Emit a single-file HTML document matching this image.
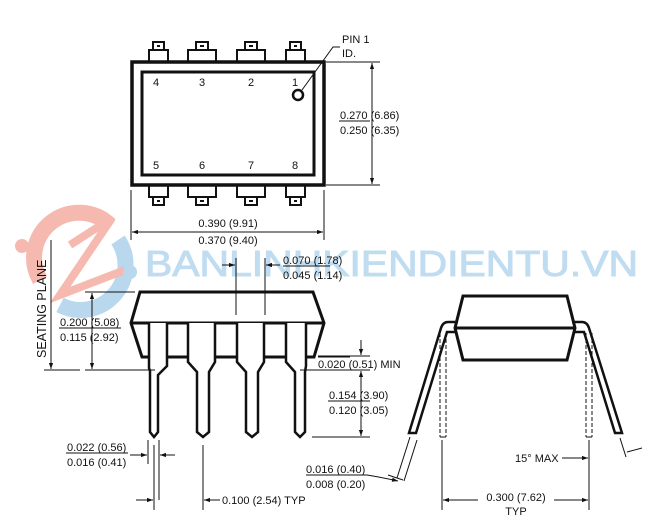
<!DOCTYPE html>
<html><head><style>
html,body{margin:0;padding:0;background:#fff;}
svg{display:block}
text{font-family:"Liberation Sans",sans-serif;font-size:11px;fill:#111}
</style></head><body>
<svg width="650" height="524" viewBox="0 0 650 524" xmlns="http://www.w3.org/2000/svg">
<defs>
<marker id="a" viewBox="0 0 10 10" refX="10" refY="5" markerWidth="8" markerHeight="6" orient="auto-start-reverse"><path d="M0,1.5L10,5L0,8.5z" fill="#111"/></marker>
</defs>
<!-- watermark -->
<g opacity="0.55">
<path d="M40,280 A45,45 0 0 1 110,225" stroke="#f08070" stroke-width="16" fill="none"/>
<path d="M118,240 A45,45 0 0 1 60,305" stroke="#80b8e0" stroke-width="16" fill="none"/>
<path d="M70,245 L112,218 L60,295 L125,270" stroke="#f08070" stroke-width="8" fill="none"/>
<circle cx="22" cy="246" r="7" fill="#f08070"/><circle cx="130" cy="272" r="7" fill="#80b8e0"/>
<text x="145" y="276" textLength="493" lengthAdjust="spacingAndGlyphs" style="font-size:36px;fill:#8ec0e6;stroke:#8ec0e6;stroke-width:1">BANLINHKIENDIENTU.VN</text>
</g>
<g stroke="#111" fill="none" stroke-width="1">
<!-- top view -->
<rect x="132" y="62" width="192" height="123" stroke-width="3.5"/>
<rect x="142" y="72" width="172" height="103" stroke-width="3"/>
<g stroke-width="2">
<path d="M149,62V50H168V62 M153,50V42H164V50 M157,46h3"/>
<path d="M188,62V50H216V62 M196,50V42H208V50 M200,46h4"/>
<path d="M237,62V50H265V62 M245,50V42H257V50 M249,46h4"/>
<path d="M286,62V50H305V62 M290,50V42H301V50 M294,46h3"/>
<path d="M149,185V197H168V185 M153,197V205H164V197 M157,201h3"/>
<path d="M188,185V197H216V185 M196,197V205H208V197 M200,201h4"/>
<path d="M237,185V197H265V185 M245,197V205H257V197 M249,201h4"/>
<path d="M286,185V197H305V185 M290,197V205H301V197 M294,201h3"/>
</g>
<circle cx="298" cy="95" r="5" stroke-width="2.5"/>
<path d="M302,90L333,47H340"/>
<path d="M326,62H380 M326,185H380"/>
<path d="M372,63V184" marker-start="url(#a)" marker-end="url(#a)"/>
<path d="M339,121H370 M131,190V240 M324,190V240"/>
<path d="M132,232H323" marker-start="url(#a)" marker-end="url(#a)"/>
<!-- side view -->
<path d="M140,292H313L324,323L314,357H142L131,323Z M131,323H324" stroke-width="3"/>
<g stroke-width="2.5" fill="#fff">
<path d="M149,323V368L150,371V432L154,437L158,432V375L167,366V323"/>
<path d="M188,323V362L197,372V432L203,437L209,432V372L215,362V323"/>
<path d="M237,323V362L246,372V432L252,437L258,432V372L264,362V323"/>
<path d="M286,323V362L295,372V432L300,437L305,432V372L306,366V323"/>
</g>
<path d="M236,258V315 M265,258V315"/>
<path d="M222,265H235" marker-end="url(#a)"/><path d="M280,265H266" marker-end="url(#a)"/>
<path d="M283,266H330"/>
<path d="M51,240V369" marker-end="url(#a)"/>
<path d="M44,370H80 M85,370H155 M85,292H135"/>
<path d="M92,293V369" marker-start="url(#a)" marker-end="url(#a)"/>
<path d="M59,328H121"/>
<path d="M318,356H370 M300,370H370 M312,437H370"/>
<path d="M361,340V355" marker-end="url(#a)"/>
<path d="M361,371V436" marker-start="url(#a)" marker-end="url(#a)"/>
<path d="M318,357H350 M328,401H370"/>
<path d="M148,440V464 M159,440V500"/>
<path d="M130,455H147" marker-end="url(#a)"/><path d="M175,455H160" marker-end="url(#a)"/>
<path d="M66,453H128"/>
<path d="M154,445V510 M203,445V510"/>
<path d="M136,500H153" marker-end="url(#a)"/><path d="M220,500H204" marker-end="url(#a)"/>
<path d="M306,475H367 M367,475Q385,478 398,481" marker-end="url(#a)"/>
<!-- end view -->
<path d="M463,296H567L575,328L567,360H463L455,328Z M455,328H575" stroke-width="3"/>
<g stroke-width="2.5">
<path d="M458,322H448Q443,322 441,328L409,433H416L447,332H456"/>
<path d="M572,322H582Q587,322 589,328L622,433H615L584,332H574"/>
</g>
<g stroke-dasharray="4,2">
<path d="M440,333V437 M446,333V437 M586,333V437 M592,333V437"/>
</g>
<path d="M440,437H446 M586,437H592"/>
<path d="M442,440V510 M589,440V510"/>
<path d="M443,500H588" marker-start="url(#a)" marker-end="url(#a)"/>
<path d="M562,458H588" marker-end="url(#a)"/>
<path d="M620,438L626,457 M642,448L627,452"/>
<path d="M410,437L397,478 M417,440L404,481 M388,475L403,480" />
</g>
<g fill="#fff" stroke="none"><rect x="478" y="492" width="76" height="12"/></g>
<text x="153" y="86">4</text><text x="199" y="86">3</text><text x="248" y="86">2</text><text x="292" y="86">1</text>
<text x="153" y="169">5</text><text x="199" y="169">6</text><text x="248" y="169">7</text><text x="292" y="169">8</text>
<text x="342" y="43">PIN 1</text><text x="342" y="57">ID.</text>
<text x="340" y="119">0.270 (6.86)</text><text x="340" y="134">0.250 (6.35)</text>
<text x="228" y="227" text-anchor="middle">0.390 (9.91)</text><text x="228" y="244" text-anchor="middle">0.370 (9.40)</text>
<text x="283" y="264">0.070 (1.78)</text><text x="283" y="279">0.045 (1.14)</text>
<text transform="translate(46,358) rotate(-90)" style="font-size:12.5px">SEATING PLANE</text>
<text x="60" y="326">0.200 (5.08)</text><text x="60" y="341">0.115 (2.92)</text>
<text x="318" y="368">0.020 (0.51) MIN</text>
<text x="329" y="399">0.154 (3.90)</text><text x="329" y="414">0.120 (3.05)</text>
<text x="67" y="451">0.022 (0.56)</text><text x="67" y="466">0.016 (0.41)</text>
<text x="222" y="504">0.100 (2.54) TYP</text>
<text x="306" y="473">0.016 (0.40)</text><text x="306" y="488">0.008 (0.20)</text>
<text x="515" y="462">15° MAX</text>
<text x="516" y="501" text-anchor="middle">0.300 (7.62)</text><text x="516" y="515" text-anchor="middle">TYP</text>
</svg>
</body></html>
